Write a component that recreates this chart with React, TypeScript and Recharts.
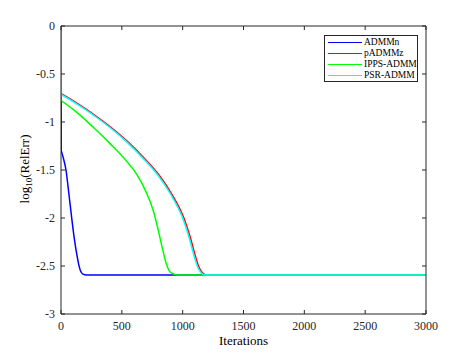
import React from 'react';
import { LineChart, Line, XAxis, YAxis, Legend, Label } from 'recharts';

const xTicks = [0, 500, 1000, 1500, 2000, 2500, 3000];
const yTicks = [-3, -2.5, -2, -1.5, -1, -0.5, 0];

const admmnIter = [0, 2, 3, 20, 41, 65, 88, 110, 130, 145, 160, 180, 210, 3000];
const admmnVal = [0, -1.3, -1.304, -1.38, -1.5, -1.75, -2.0, -2.22, -2.38, -2.48, -2.55, -2.585, -2.594, -2.594];

const padmmzIter = [0, 1, 2, 140, 275, 410, 550, 686, 810, 910, 1010, 1060, 1103, 1130, 1155, 1180, 1210, 3000];
const padmmzVal = [0, -0.705, -0.7057, -0.812, -0.927, -1.055, -1.207, -1.38, -1.56, -1.75, -2.0, -2.19, -2.39, -2.5, -2.56, -2.588, -2.594, -2.594];

const ippsIter = [0, 1, 2, 130, 265, 403, 540, 620, 700, 760, 800, 836, 866, 890, 915, 945, 975, 3000];
const ippsVal = [0, -0.779, -0.7798, -0.9, -1.055, -1.225, -1.41, -1.54, -1.73, -1.93, -2.13, -2.33, -2.48, -2.55, -2.578, -2.592, -2.594, -2.594];

const psrIter = [0, 1, 2, 130, 265, 400, 540, 676, 800, 900, 1000, 1050, 1093, 1120, 1145, 1170, 1200, 3000];
const psrVal = [0, -0.712, -0.7127, -0.812, -0.927, -1.055, -1.207, -1.38, -1.56, -1.75, -2.0, -2.19, -2.39, -2.5, -2.56, -2.588, -2.594, -2.594];

const seriesNames = ['ADMMn', 'pADMMz', 'IPPS-ADMM', 'PSR-ADMM'];
const seriesColors = ['#0000FF', '#FF0000', '#00FF00', '#00FFFF'];

const zip = (xs: number[], ys: number[]) => xs.map((x, i) => ({ x, y: ys[i] }));
const seriesData = [
  zip(admmnIter, admmnVal),
  zip(padmmzIter, padmmzVal),
  zip(ippsIter, ippsVal),
  zip(psrIter, psrVal),
];

const FONT = '"Liberation Serif", "Times New Roman", serif';
const AXIS = '#262626';
const blank = () => '';

const LegendBox = () => (
  <div
    style={{
      boxSizing: 'border-box',
      width: 94,
      height: 47,
      border: `1px solid ${AXIS}`,
      background: '#fff',
      paddingTop: 1,
      fontFamily: FONT,
      fontSize: 9.5,
      color: '#000',
      whiteSpace: 'nowrap',
    }}
  >
    {seriesNames.map((n, i) => (
      <div key={n} style={{ display: 'flex', alignItems: 'center', height: 11 }}>
        <div style={{ width: 34, height: 1.5, marginLeft: 3, background: seriesColors[i], flex: 'none' }} />
        <span style={{ marginLeft: 2, lineHeight: '11px' }}>{n}</span>
      </div>
    ))}
  </div>
);

const YLabel = (props: any) => {
  const vb = props.viewBox || {};
  const cx = 29;
  const cy = vb.y + vb.height / 2 - 1;
  return (
    <text
      x={cx}
      y={cy}
      transform={`rotate(-90, ${cx}, ${cy})`}
      textAnchor="middle"
      fontFamily={FONT}
      fontSize={13}
      fill="#000"
    >
      <tspan>log</tspan>
      <tspan fontSize={9} dy={3}>10</tspan>
      <tspan dy={-3}>(RelErr)</tspan>
    </text>
  );
};

export default function App() {
  return (
    <div style={{ position: 'absolute', left: 0, top: 0, width: 471, height: 353, background: '#fff' }}>
      <LineChart width={471} height={353} margin={{ top: 25, right: 44, bottom: 9, left: 0 }}>
        <XAxis
          xAxisId="b"
          type="number"
          dataKey="x"
          domain={[0, 3000]}
          ticks={xTicks}
          allowDataOverflow
          height={30}
          stroke={AXIS}
          tickSize={-4}
          tickMargin={11}
          tick={{ fontFamily: FONT, fontSize: 12, fill: '#262626' }}
          tickLine={{ stroke: AXIS }}
        >
          <Label value="Iterations" position="insideBottom" offset={-1} style={{ fontFamily: FONT, fontSize: 13, fill: '#000' }} />
        </XAxis>
        <XAxis
          xAxisId="t"
          orientation="top"
          type="number"
          dataKey="x"
          domain={[0, 3000]}
          ticks={xTicks}
          allowDataOverflow
          height={1}
          stroke={AXIS}
          tickSize={-4}
          tickFormatter={blank}
          tick={{ fontSize: 1 }}
          tickLine={{ stroke: AXIS }}
        />
        <YAxis
          yAxisId="l"
          type="number"
          domain={[-3, 0]}
          ticks={yTicks}
          allowDataOverflow
          width={61}
          stroke={AXIS}
          tickSize={-4}
          tickMargin={10}
          tick={{ fontFamily: FONT, fontSize: 12, fill: '#262626' }}
          tickLine={{ stroke: AXIS }}
        >
          <Label content={<YLabel />} />
        </YAxis>
        <YAxis
          yAxisId="r"
          orientation="right"
          type="number"
          domain={[-3, 0]}
          ticks={yTicks}
          allowDataOverflow
          width={1}
          stroke={AXIS}
          tickSize={-4}
          tickFormatter={blank}
          tick={{ fontSize: 1 }}
          tickLine={{ stroke: AXIS }}
        />
        <Line
          data={seriesData[3]}
          dataKey="y"
          xAxisId="t"
          yAxisId="r"
          stroke="none"
          dot={false}
          activeDot={false}
          legendType="none"
          isAnimationActive={false}
        />
        {seriesData.map((d, i) => (
          <Line
            key={seriesNames[i]}
            data={d}
            dataKey="y"
            name={seriesNames[i]}
            xAxisId="b"
            yAxisId="l"
            type="monotone"
            stroke={seriesColors[i]}
            strokeWidth={1.5}
            dot={false}
            activeDot={false}
            isAnimationActive={false}
          />
        ))}
        <Legend
          layout="vertical"
          align="center"
          verticalAlign="middle"
          content={<LegendBox />}
          wrapperStyle={{ left: 324, top: 35, width: 94, height: 47, right: 'auto', bottom: 'auto' }}
        />
      </LineChart>
    </div>
  );
}
